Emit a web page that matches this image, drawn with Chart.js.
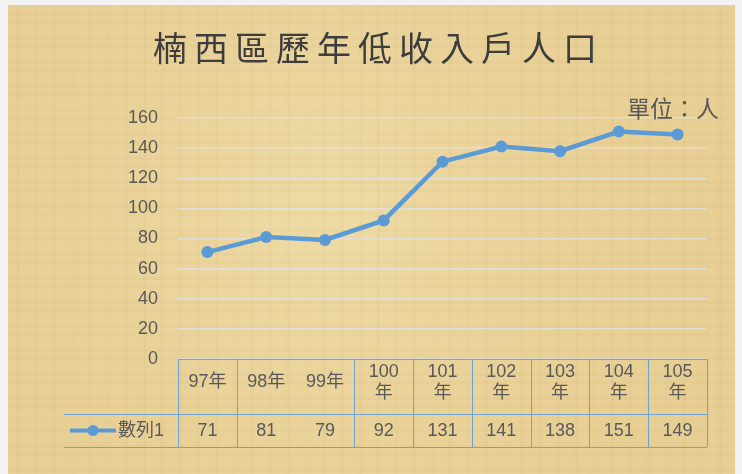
<!DOCTYPE html>
<html>
<head>
<meta charset="utf-8">
<title>楠西區歷年低收入戶人口</title>
<script src="https://cdn.jsdelivr.net/npm/chart.js@4/dist/chart.umd.min.js"></script>
<style>
    html, body { margin: 0; padding: 0; background: #f2f2f2; }
    #wrap { width: 742px; height: 474px; }
</style>
</head>
<body>
<div id="wrap"><canvas id="lowIncomeChart" width="742" height="474"></canvas></div>
<script>
// chart data
var titleText = '楠西區歷年低收入戶人口';
var unitText = '單位：人';
var seriesName = '數列1';
var yearLabels = [['97年'], ['98年'], ['99年'], ['100', '年'], ['101', '年'], ['102', '年'], ['103', '年'], ['104', '年'], ['105', '年']];
var households = [71, 81, 79, 92, 131, 141, 138, 151, 149];
var yMin = 0;
var yMax = 160;
var yStep = 20;

var lineBlue = '#5b9bd5';
var tableBlue = '#6fa3d6';
var textGrey = '#595959';
var fontFamily = '"Liberation Sans", "Noto Sans CJK TC", sans-serif';

// paper background, roughly like the papyrus fill in the original
var parchmentPlugin = {
    id: 'parchment',
    beforeDraw: function(chart) {
        var ctx = chart.ctx;
        var x0 = 8, y0 = 5, w = 727, h = chart.height - 5;
        ctx.save();
        ctx.fillStyle = '#e9d298';
        ctx.fillRect(x0, y0, w, h);

        var g = ctx.createRadialGradient(330, 220, 40, 330, 220, 430);
        g.addColorStop(0, 'rgba(244,226,176,0.45)');
        g.addColorStop(1, 'rgba(222,192,128,0.2)');
        ctx.fillStyle = g;
        ctx.fillRect(x0, y0, w, h);

        // loose fibres
        for (var i = 0; i < w; i += 9) {
            var a = 0.02 + 0.04 * ((i * 7) % 11) / 11;
            ctx.fillStyle = (i % 2 === 0) ? 'rgba(250,238,200,' + a + ')' : 'rgba(180,140,70,' + a + ')';
            ctx.fillRect(x0 + i, y0, 3, h);
        }
        for (var j = 0; j < h; j += 8) {
            var b = 0.02 + 0.04 * ((j * 5) % 13) / 13;
            ctx.fillStyle = (j % 3 === 0) ? 'rgba(250,238,200,' + b + ')' : 'rgba(180,140,70,' + b + ')';
            ctx.fillRect(x0, y0 + j, w, 3);
        }
        ctx.restore();
    }
};

// title and unit note
var headingPlugin = {
    id: 'heading',
    afterDraw: function(chart) {
        var ctx = chart.ctx;
        ctx.save();
        ctx.fillStyle = '#3d3d3d';
        ctx.font = '34px "Noto Sans CJK TC", sans-serif';
        ctx.letterSpacing = '7px';
        ctx.textBaseline = 'middle';
        ctx.textAlign = 'left';
        var tw = ctx.measureText(titleText).width - 7;
        ctx.fillText(titleText, 375 - tw / 2, 48);

        ctx.letterSpacing = '0px';
        ctx.fillStyle = textGrey;
        ctx.font = '23px "Noto Sans CJK TC", sans-serif';
        ctx.textAlign = 'right';
        ctx.fillText(unitText, 719, 108);
        ctx.restore();
    }
};

// excel style data table under the axis
var dataTablePlugin = {
    id: 'dataTable',
    afterDraw: function(chart) {
        var ctx = chart.ctx;
        var xs = chart.scales.x;
        var area = chart.chartArea;
        var top = area.bottom;
        var headBottom = top + 55;
        var rowBottom = headBottom + 33;
        var colW = (area.right - area.left) / households.length;

        ctx.save();
        ctx.strokeStyle = tableBlue;
        ctx.lineWidth = 1;
        ctx.beginPath();
        ctx.moveTo(area.left, top + 0.5);
        ctx.lineTo(area.right, top + 0.5);
        ctx.moveTo(64, headBottom + 0.5);
        ctx.lineTo(area.right, headBottom + 0.5);
        ctx.moveTo(64, rowBottom + 0.5);
        ctx.lineTo(area.right, rowBottom + 0.5);
        for (var k = 0; k <= households.length; k++) {
            if (k === 2) continue; // the 98/99 divider is missing in the original
            var lx = Math.round(area.left + k * colW) + 0.5;
            ctx.moveTo(lx, top);
            ctx.lineTo(lx, rowBottom);
        }
        ctx.stroke();

        var midY = (headBottom + rowBottom) / 2;
        ctx.fillStyle = textGrey;
        ctx.font = '18px ' + fontFamily;
        ctx.textAlign = 'center';
        ctx.textBaseline = 'middle';
        households.forEach(function(v, i) {
            ctx.fillText(String(v), xs.getPixelForValue(i), midY + 1);
        });

        // legend key
        ctx.strokeStyle = lineBlue;
        ctx.lineWidth = 4;
        ctx.beginPath();
        ctx.moveTo(70, midY);
        ctx.lineTo(116, midY);
        ctx.stroke();
        ctx.fillStyle = lineBlue;
        ctx.beginPath();
        ctx.arc(93, midY, 5.5, 0, Math.PI * 2);
        ctx.fill();
        ctx.fillStyle = textGrey;
        ctx.textAlign = 'left';
        ctx.fillText(seriesName, 118, midY + 1);
        ctx.restore();
    }
};

var ctx = document.getElementById('lowIncomeChart').getContext('2d');
var lowIncomeChart = new Chart(ctx, {
    type: 'line',
    data: {
        labels: yearLabels,
        datasets: [{
            label: seriesName,
            data: households,
            borderColor: lineBlue,
            backgroundColor: lineBlue,
            borderWidth: 4.5,
            pointRadius: 6,
            pointBorderWidth: 0,
            pointBackgroundColor: lineBlue,
            tension: 0,
            fill: false
        }]
    },
    options: {
        responsive: false,
        animation: false,
        devicePixelRatio: 1,
        layout: {
            padding: { top: 118, left: 108, right: 35, bottom: 47 }
        },
        plugins: {
            legend: { display: false },
            title: { display: false },
            tooltip: { enabled: false }
        },
        scales: {
            x: {
                offset: true,
                grid: { display: false, drawTicks: false },
                border: { display: false },
                ticks: {
                    color: textGrey,
                    padding: 13,
                    crossAlign: 'center',
                    maxRotation: 0,
                    autoSkip: false,
                    font: { family: fontFamily, size: 18, lineHeight: '21px' }
                }
            },
            y: {
                min: yMin,
                max: yMax,
                grid: { color: 'rgba(225,225,225,0.8)', lineWidth: 1.5, drawTicks: false },
                border: { display: false },
                ticks: {
                    stepSize: yStep,
                    color: textGrey,
                    padding: 20,
                    font: { family: fontFamily, size: 18 }
                }
            }
        }
    },
    plugins: [parchmentPlugin, headingPlugin, dataTablePlugin]
});
</script>
</body>
</html>
